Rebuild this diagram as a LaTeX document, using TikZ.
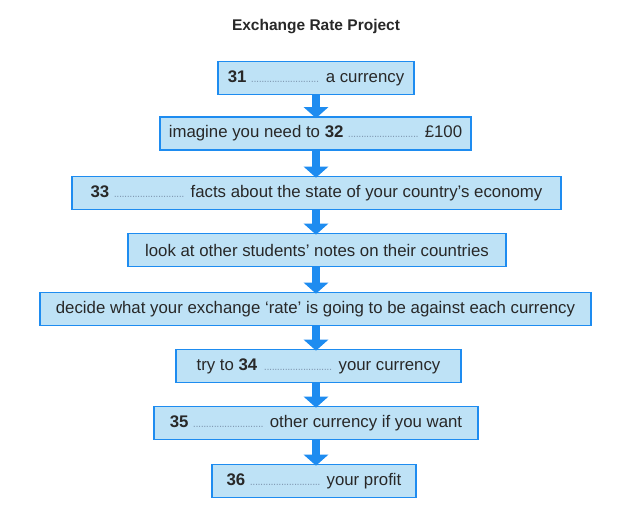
\documentclass[tikz,border=0pt]{standalone}
\usepackage{fontspec}
\setmainfont{Liberation Sans}
\usetikzlibrary{positioning,arrows.meta}

\definecolor{boxfill}{RGB}{190,226,246}
\definecolor{boxline}{RGB}{30,140,240}
\definecolor{dotcol}{RGB}{130,155,180}
\definecolor{txt}{RGB}{40,40,40}

% dotted gap to be filled in
\newcommand{\blank}[1]{{\color{dotcol}\fontsize{11}{12}\selectfont\leaders\hbox to 2.6pt{\hss.\hss}\hskip#1pt\relax}}

\begin{document}
\begin{tikzpicture}[
  x=1pt,y=-1pt,
  font=\fontsize{16.8}{19}\selectfont,
  text=txt,
  stepbox/.style={draw=boxline,line width=1.6pt,fill=boxfill,minimum height=33pt,inner sep=0pt,anchor=center},
  flow/.style={draw=boxline,line width=8pt,-{Triangle[length=11pt,width=24pt]},shorten <=-1pt,shorten >=-2pt}]

\useasboundingbox (0,0) rectangle (630,513);

% --- title ---
\node[font=\fontsize{15.5}{17}\selectfont\bfseries] (title) at (316,27) {Exchange Rate Project};

% --- the steps, top to bottom ---
\node[stepbox,minimum width=196pt] (s31) at (316,78)  {\textbf{31} \blank{70} a currency};
\node[stepbox,minimum width=311pt] (s32) at (315.5,133.5) {imagine you need to \textbf{32} \blank{72} £100};
\node[stepbox,minimum width=489pt] (s33) at (316.5,193) {\textbf{33} \blank{72} facts about the state of your country’s economy};
\node[stepbox,minimum width=378pt] (s4)  at (317,250) {look at other students’ notes on their countries};
\node[stepbox,minimum width=551pt] (s5)  at (315.5,309) {decide what your exchange ‘rate’ is going to be against each currency};
\node[stepbox,minimum width=285pt] (s34) at (318.5,366) {try to \textbf{34} \blank{72} your currency};
\node[stepbox,minimum width=324pt] (s35) at (316,423) {\textbf{35} \blank{72} other currency if you want};
\node[stepbox,minimum width=204pt] (s36) at (314,481) {\textbf{36} \blank{72} your profit};

% --- arrows between steps ---
\foreach \a/\b in {s31/s32,s32/s33,s33/s4,s4/s5,s5/s34,s34/s35,s35/s36}
  \draw[flow] (\a.south -| 316,0) -- (\b.north -| 316,0);

\end{tikzpicture}
\end{document}
